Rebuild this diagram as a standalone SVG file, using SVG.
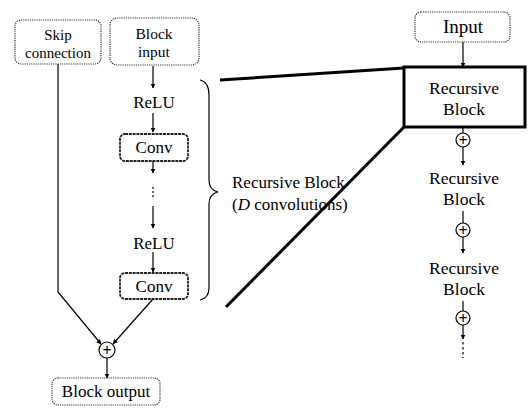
<svg xmlns="http://www.w3.org/2000/svg" width="529" height="411" viewBox="0 0 529 411">
<defs>
<marker id="ah" viewBox="0 0 10 10" refX="9" refY="5" markerWidth="5" markerHeight="6" orient="auto" markerUnits="userSpaceOnUse"><path d="M0,0 L10,5 L0,10 z" fill="#000"/></marker>
</defs>
<style>
text{fill:#000;text-anchor:middle}
.dot{fill:#fff;stroke:#333;stroke-width:1.2;stroke-dasharray:1.2,1}
.conv{fill:#fff;stroke:#222;stroke-width:1.8;stroke-dasharray:3,0.8}
.ln{stroke:#000;stroke-width:1.2;fill:none}
.thk{stroke:#000;stroke-width:3;fill:none}
.plus{fill:#fff;stroke:#000;stroke-width:1.2}
.pt{font-size:16px;font-weight:bold}
</style>
<rect width="529" height="411" fill="#fff"/>
<g id="connectors">
<line class="ln" x1="153" y1="66" x2="153" y2="88" marker-end="url(#ah)"/>
<line class="ln" x1="153" y1="113" x2="153" y2="132" marker-end="url(#ah)"/>
<line class="ln" x1="153" y1="161" x2="153" y2="173" marker-end="url(#ah)"/>
<line class="ln" x1="153" y1="187" x2="153" y2="199" stroke-dasharray="2,2" stroke-width="1.6"/>
<line class="ln" x1="153" y1="206" x2="153" y2="228" marker-end="url(#ah)"/>
<line class="ln" x1="153" y1="252" x2="153" y2="272" marker-end="url(#ah)"/>
<polyline class="ln" points="58,64 58,292 101,344" marker-end="url(#ah)"/>
<line class="ln" x1="153" y1="299" x2="113" y2="344" marker-end="url(#ah)"/>
<line class="ln" x1="107" y1="358" x2="107" y2="378" stroke-width="1.6" marker-end="url(#ah)"/>
<line class="ln" x1="463" y1="42" x2="463" y2="67" marker-end="url(#ah)"/>
<line class="ln" x1="463" y1="127" x2="463" y2="133"/>
<line class="ln" x1="463" y1="147" x2="463" y2="165" marker-end="url(#ah)"/>
<line class="ln" x1="463" y1="211" x2="463" y2="223"/>
<line class="ln" x1="463" y1="237" x2="463" y2="253" marker-end="url(#ah)"/>
<line class="ln" x1="463" y1="301" x2="463" y2="311"/>
<line class="ln" x1="463" y1="325" x2="463" y2="339" marker-end="url(#ah)"/>
<line class="ln" x1="463" y1="342" x2="463" y2="358" stroke-dasharray="2.5,2.5" stroke-width="2.2"/>
<line class="thk" x1="220" y1="80" x2="404" y2="68"/>
<line class="thk" x1="226" y1="307" x2="404" y2="127"/>
<path class="ln" stroke-width="1.6" d="M200,80 Q209,82 209,95 L209,180 Q209,190 218,192 Q209,194 209,204 L209,288 Q209,298 200,300"/>
</g>
<g font-family="'Liberation Serif', 'DejaVu Serif', 'Times New Roman', serif">
<g id="skip"><rect class="dot" x="15" y="20" width="86" height="44" rx="6"/><text x="58" y="40" font-size="15">Skip</text><text x="58" y="58" font-size="15">connection</text></g>
<g id="blockinput"><rect class="dot" x="110" y="18" width="89" height="47" rx="7"/><text x="154" y="39" font-size="15.5">Block</text><text x="154" y="57" font-size="15.5">input</text></g>
<g id="relu1"><text x="154" y="108" font-size="17">ReLU</text></g>
<g id="conv1"><rect class="conv" x="120" y="134" width="68" height="27" rx="5"/><text x="154" y="153" font-size="17">Conv</text></g>
<g id="relu2"><text x="154" y="249" font-size="17">ReLU</text></g>
<g id="conv2"><rect class="conv" x="120" y="273" width="68" height="26" rx="5"/><text x="154" y="292" font-size="17">Conv</text></g>
<g id="sum"><circle class="plus" cx="107" cy="350" r="8"/><text class="pt" x="107" y="355.5">+</text></g>
<g id="blockoutput"><rect class="dot" x="52" y="378" width="108" height="27" rx="6"/><text x="106" y="397" font-size="17">Block output</text></g>
<g id="label"><text x="232" y="188" font-size="17" text-anchor="start" style="text-anchor:start">Recursive Block</text><text x="232" y="210" font-size="17" style="text-anchor:start">(<tspan font-style="italic">D</tspan> convolutions)</text></g>
<g id="input"><rect class="dot" x="415" y="12" width="95" height="30" rx="6"/><text x="463" y="33" font-size="19">Input</text></g>
<g id="rb1"><rect fill="#fff" stroke="#000" stroke-width="3" x="404" y="67" width="121" height="60"/><text x="464" y="94" font-size="17.5">Recursive</text><text x="464" y="115" font-size="17.5">Block</text></g>
<g id="p1"><circle class="plus" cx="463" cy="140" r="7"/><text class="pt" x="463" y="145.5">+</text></g>
<g id="rb2"><text x="464" y="184" font-size="17.5">Recursive</text><text x="464" y="205" font-size="17.5">Block</text></g>
<g id="p2"><circle class="plus" cx="463" cy="230" r="7"/><text class="pt" x="463" y="235.5">+</text></g>
<g id="rb3"><text x="464" y="274" font-size="17.5">Recursive</text><text x="464" y="295" font-size="17.5">Block</text></g>
<g id="p3"><circle class="plus" cx="463" cy="318" r="7"/><text class="pt" x="463" y="323.5">+</text></g>
</g>
</svg>
